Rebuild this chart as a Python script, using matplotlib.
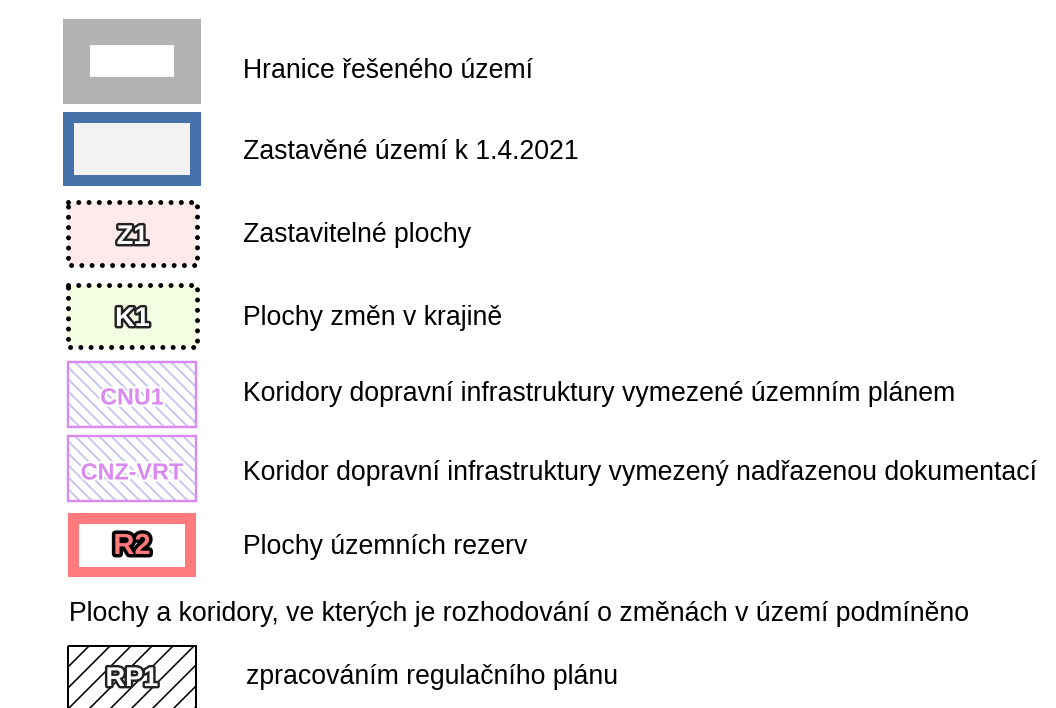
import matplotlib
matplotlib.use("Agg")
import matplotlib.pyplot as plt
import matplotlib.patheffects as pe
from matplotlib.patches import Rectangle
import numpy as np

plt.rcParams['font.family'] = ['Liberation Sans', 'DejaVu Sans']

# ---- content ----
labels = [
    "Hranice řešeného území",
    "Zastavěné území k 1.4.2021",
    "Zastavitelné plochy",
    "Plochy změn v krajině",
    "Koridory dopravní infrastruktury vymezené územním plánem",
    "Koridor dopravní infrastruktury vymezený nadřazenou dokumentací",
    "Plochy územních rezerv",
]
codes = ["", "", "Z1", "K1", "CNU1", "CNZ-VRT", "R2"]
kinds = ["boundary", "built", "dotted_pink", "dotted_green", "corridor", "corridor", "reserve"]
header = "Plochy a koridory, ve kterých je rozhodování o změnách v území podmíněno"
sub_labels = ["zpracováním regulačního plánu"]
sub_codes = ["RP1"]

# ---- layout (pixels) ----
W, H = 1056, 708
label_y = [71, 152, 235, 318, 394, 473, 547]
box = [(63, 19, 201, 104), (63, 112, 201, 186), (68, 202, 197, 265), (68, 285, 197, 347),
       (68, 362, 196, 427), (68, 436, 196, 501), (68, 513, 196, 577)]
code_y = [0, 0, 237, 319, 398, 473, 546]
header_pos = (69, 614)
sub_y = [677]
sub_box = [(68, 646, 196, 730)]
sub_code_y = [679]

FS = 19.2      # label font size

fig = plt.figure(figsize=(W / 100, H / 100), dpi=100)
ax = fig.add_axes([0, 0, 1, 1])
ax.set_xlim(0, W)
ax.set_ylim(H, 0)
ax.axis('off')

PX = 0.72  # points per pixel


def rect(x0, y0, x1, y1, **kw):
    r = Rectangle((x0, y0), x1 - x0, y1 - y0, **kw)
    ax.add_patch(r)
    return r


def hatch(x0, y0, x1, y1, spacing, color, lw, direction, clip):
    h = y1 - y0
    for off in np.arange(x0 - h - spacing, x1 + h + spacing, spacing):
        xs = [off, off + h]
        ys = [y1, y0] if direction == '/' else [y0, y1]
        ln, = ax.plot(xs, ys, color=color, lw=lw * PX, solid_capstyle='butt', zorder=2)
        ln.set_clip_path(clip)


def outlined(x, y, s, size, fc, ec, sw):
    ax.text(x, y, s, fontsize=size, fontweight='bold', color=fc, ha='center', va='center',
            zorder=5, path_effects=[pe.withStroke(linewidth=sw, foreground=ec)])


def label(x, y, s):
    ax.text(x, y, s, fontsize=FS, color='black', ha='left', va='center')


for lab, ly, b, code, cy, kind in zip(labels, label_y, box, codes, code_y, kinds):
    x0, y0, x1, y1 = b
    cx = (x0 + x1) / 2
    if kind == "boundary":
        rect(x0, y0, x1, y1, fc='#b3b3b3', ec='none')
        rect(90, 45, 174, 77, fc='white', ec='none')
    elif kind == "built":
        rect(x0, y0, x1, y1, fc='#4671a8', ec='none')
        rect(x0 + 11, y0 + 11, x1 - 11, y1 - 11, fc='#f2f2f2', ec='none')
    elif kind.startswith("dotted"):
        fc = '#ffe9ea' if kind == "dotted_pink" else '#f3fde2'
        rect(x0, y0, x1, y1, fc=fc, ec='none')
        ax.plot([x0, x1, x1, x0, x0], [y0, y0, y1, y1, y0], color='black', lw=5 * PX,
                linestyle=(0, (0.001, 2.05)), dash_capstyle='round', zorder=3)
        outlined(cx, cy, code, 19.5, 'white', '#222222', 3.5)
    elif kind == "corridor":
        r = rect(x0, y0, x1, y1, fc='white', ec='none')
        hatch(x0, y0, x1, y1, 12, '#c2bff0', 1.7, '\\', r)
        rect(x0, y0, x1, y1, fc='none', ec='#d98af0', lw=2.4 * PX, zorder=3)
        ax.text(cx, cy, code, fontsize=16.8, fontweight='bold', color='#d98af0', ha='center',
                va='center', zorder=5,
                path_effects=[pe.withStroke(linewidth=3, foreground='white')])
    elif kind == "reserve":
        rect(x0, y0, x1, y1, fc='#ff7b7b', ec='none')
        rect(x0 + 11, y0 + 11, x1 - 11, y1 - 10, fc='white', ec='none')
        outlined(cx, cy, code, 21, '#ff7b7b', 'black', 5)
    label(243, ly, lab)

label(header_pos[0], header_pos[1], header)

for lab, ly, b, code, cy in zip(sub_labels, sub_y, sub_box, sub_codes, sub_code_y):
    x0, y0, x1, y1 = b
    r = rect(x0, y0, x1, y1, fc='white', ec='none')
    hatch(x0, y0, x1, y1, 21, 'black', 1.6, '/', r)
    rect(x0, y0, x1, y1, fc='none', ec='black', lw=2 * PX, zorder=3)
    outlined((x0 + x1) / 2, cy, code, 19.5, 'white', '#222222', 3.5)
    label(246, ly, lab)

fig.savefig("out.png", dpi=100, facecolor='white')
